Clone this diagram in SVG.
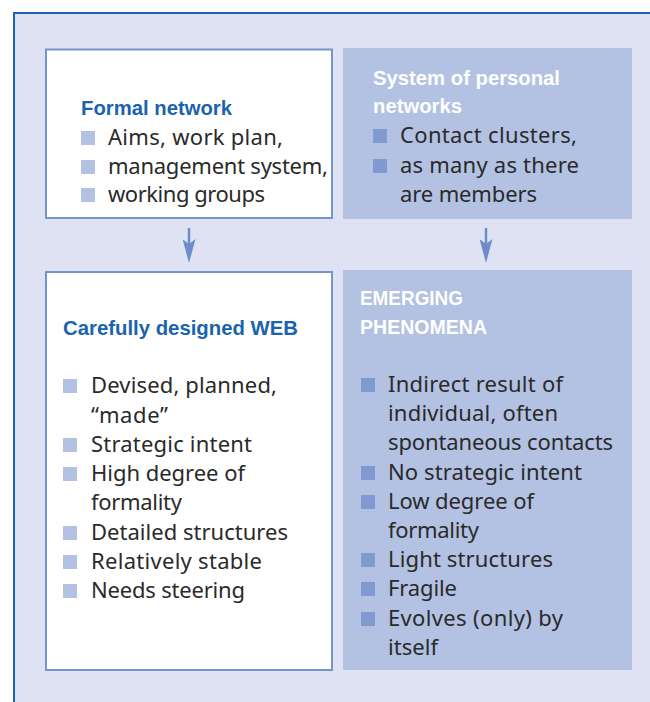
<svg xmlns="http://www.w3.org/2000/svg" width="650" height="702" viewBox="0 0 650 702">
<defs>
<style>
.frame{fill:#dfe2f2;stroke:#1d62ae;stroke-width:2}
.wbox{fill:#ffffff;stroke:#7593cc;stroke-width:2}
.bbox{fill:#b3c1e3}
.hd{font-family:"Liberation Sans",Arial,sans-serif;font-weight:bold;font-size:21px;fill:#1b63ad}
.hw{font-family:"Liberation Sans",Arial,sans-serif;font-weight:bold;font-size:21px;fill:#ffffff}
.tx{font-family:"Noto Sans","Liberation Sans",sans-serif;font-size:22px;fill:#2a2a2a}
.bl{fill:#b3c1e3}
.bd{fill:#8099d0}
.conn{stroke:#6d8dca;stroke-width:2.5;fill:none}
</style>
<marker id="arr" markerUnits="userSpaceOnUse" viewBox="0 0 24 13" refX="16" refY="6.5" markerWidth="24" markerHeight="13" orient="auto">
<path d="M0,0 L24,6.5 L0,13 L5,6.5 Z" fill="#6d8dca"/>
</marker>
</defs>
<rect x="14" y="13" width="640" height="695" class="frame"/>

<g id="formal-network">
<rect x="46" y="49.5" width="286" height="168.5" class="wbox"/>
<text x="81" y="115" class="hd" textLength="151" lengthAdjust="spacingAndGlyphs">Formal network</text>
<rect x="81" y="131" width="14" height="14" class="bl"/>
<text x="108" y="145" class="tx" textLength="175">Aims, work plan,</text>
<rect x="81" y="160" width="14" height="14" class="bl"/>
<text x="108" y="174" class="tx" textLength="220">management system,</text>
<rect x="81" y="188" width="14" height="14" class="bl"/>
<text x="108" y="202" class="tx" textLength="157">working groups</text>
</g>

<g id="personal-networks">
<rect x="343" y="48" width="289" height="171" class="bbox"/>
<text x="373" y="85" class="hw" textLength="187" lengthAdjust="spacingAndGlyphs">System of personal</text>
<text x="373" y="113" class="hw" textLength="89" lengthAdjust="spacingAndGlyphs">networks</text>
<rect x="373" y="129" width="14" height="14" class="bd"/>
<text x="400" y="143" class="tx" textLength="177">Contact clusters,</text>
<rect x="373" y="159" width="14" height="14" class="bd"/>
<text x="400" y="173" class="tx" textLength="179">as many as there</text>
<text x="400" y="202" class="tx" textLength="137">are members</text>
</g>

<g id="designed-web">
<rect x="46" y="272" width="286" height="398" class="wbox"/>
<text x="63" y="335" class="hd" textLength="235" lengthAdjust="spacingAndGlyphs">Carefully designed WEB</text>
<rect x="63" y="379" width="14" height="14" class="bl"/>
<text x="91" y="393" class="tx" textLength="186">Devised, planned,</text>
<text x="91" y="423" class="tx" textLength="77">“made”</text>
<rect x="63" y="438" width="14" height="14" class="bl"/>
<text x="91" y="452" class="tx" textLength="161">Strategic intent</text>
<rect x="63" y="467" width="14" height="14" class="bl"/>
<text x="91" y="481" class="tx" textLength="154">High degree of</text>
<text x="91" y="510" class="tx" textLength="91">formality</text>
<rect x="63" y="526" width="14" height="14" class="bl"/>
<text x="91" y="540" class="tx" textLength="197">Detailed structures</text>
<rect x="63" y="555" width="14" height="14" class="bl"/>
<text x="91" y="569" class="tx" textLength="171">Relatively stable</text>
<rect x="63" y="584" width="14" height="14" class="bl"/>
<text x="91" y="598" class="tx" textLength="154">Needs steering</text>
</g>

<g id="emerging-phenomena">
<rect x="343" y="270" width="289" height="400" class="bbox"/>
<text x="360" y="305" class="hw" textLength="103" lengthAdjust="spacingAndGlyphs">EMERGING</text>
<text x="360" y="334" class="hw" textLength="127" lengthAdjust="spacingAndGlyphs">PHENOMENA</text>
<rect x="361" y="378" width="14" height="14" class="bd"/>
<text x="388" y="392" class="tx" textLength="175">Indirect result of</text>
<text x="388" y="421" class="tx" textLength="170">individual, often</text>
<text x="388" y="450" class="tx" textLength="225">spontaneous contacts</text>
<rect x="361" y="466" width="14" height="14" class="bd"/>
<text x="388" y="480" class="tx" textLength="194">No strategic intent</text>
<rect x="361" y="495" width="14" height="14" class="bd"/>
<text x="388" y="509" class="tx" textLength="146">Low degree of</text>
<text x="388" y="538" class="tx" textLength="91">formality</text>
<rect x="361" y="553" width="14" height="14" class="bd"/>
<text x="388" y="567" class="tx" textLength="165">Light structures</text>
<rect x="361" y="582" width="14" height="14" class="bd"/>
<text x="388" y="596" class="tx" textLength="69">Fragile</text>
<rect x="361" y="612" width="14" height="14" class="bd"/>
<text x="388" y="626" class="tx" textLength="175">Evolves (only) by</text>
<text x="388" y="655" class="tx" textLength="50">itself</text>
</g>

<g id="connectors">
<line x1="189" y1="228" x2="189" y2="255" class="conn" marker-end="url(#arr)"/>
<line x1="486" y1="228" x2="486" y2="255" class="conn" marker-end="url(#arr)"/>
</g>
</svg>
